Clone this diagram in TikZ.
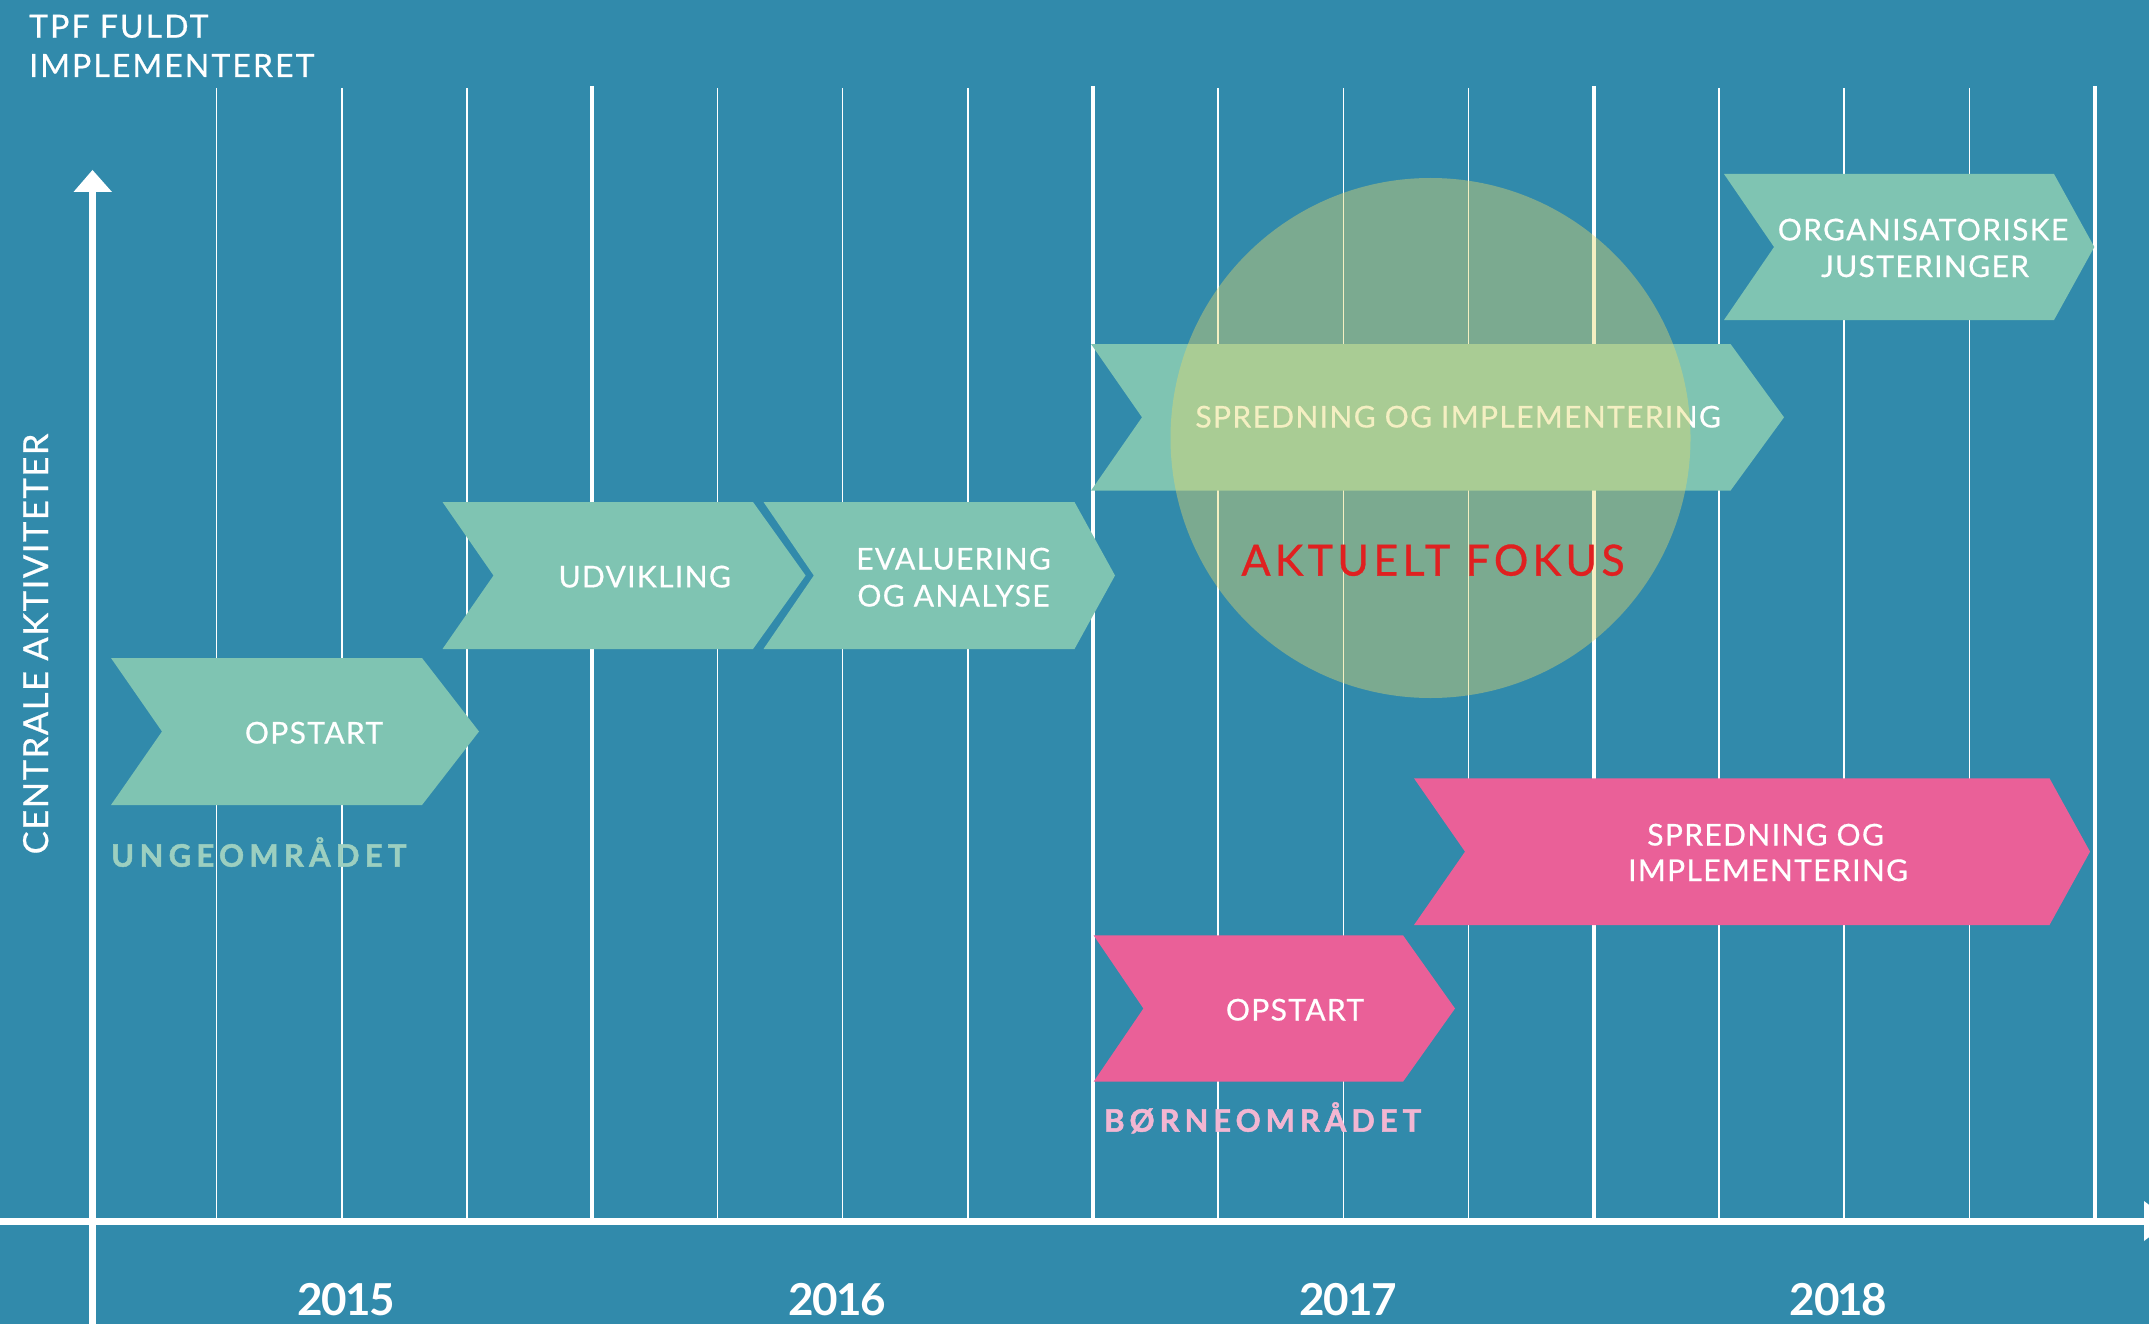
\documentclass[tikz,border=0pt]{standalone}
\usepackage{fontspec}
\setmainfont{Lato}
\definecolor{bgblue}{RGB}{49,138,171}
\definecolor{teal}{RGB}{127,196,178}
\definecolor{pinkc}{RGB}{234,96,152}
\definecolor{ungec}{RGB}{156,207,192}
\definecolor{borne}{RGB}{242,182,210}
\definecolor{focusc}{RGB}{230,217,107}
\definecolor{redc}{RGB}{224,32,32}
\newcommand\chev[7]{%
  \fill[#7] (#1,#5) -- (#3,#5) -- (#4,{(#5+#6)/2}) -- (#3,#6) -- (#1,#6) -- (#2,{(#5+#6)/2}) -- cycle;}
\tikzset{
  lab/.style={text=white, inner sep=0pt, anchor=base, font=\fontsize{30}{36}\selectfont\addfontfeatures{LetterSpace=4.5,FakeBold=0.6}},
  thinline/.style={white, line width=1.6pt},
  thickline/.style={white, line width=4pt},
  yearlab/.style={text=white, inner sep=0pt, anchor=base, font=\bfseries\fontsize{44}{50}\selectfont\addfontfeatures{LetterSpace=-3.5}},
}
\begin{document}
\begin{tikzpicture}[x=1pt,y=-1pt]
\useasboundingbox (0,0) rectangle (2149,1324);
\clip (0,0) rectangle (2149,1324);
\fill[bgblue] (0,0) rectangle (2149,1324);
% grid
\foreach \k in {1,2,3,5,6,7,9,10,11,13,14,15}
  \draw[thinline] ({91.3+125.2*\k},88) -- ({91.3+125.2*\k},1218);
\foreach \k in {4,8,12,16}
  \draw[thickline] ({91.3+125.2*\k},86) -- ({91.3+125.2*\k},1218);
% axes
\draw[white, line width=7pt] (0,1221) -- (2146,1221);
\fill[white] (2144,1201) -- (2170,1221) -- (2144,1241) -- cycle;
\draw[white, line width=7pt] (92.5,1324) -- (92.5,190);
\fill[white] (73.5,192) -- (92.5,170) -- (112,192) -- cycle;
% header
\node[lab, anchor=base west, font=\fontsize{32}{38}\selectfont\addfontfeatures{LetterSpace=6.5,FakeBold=0.6}] (h1) at (29,37.7) {TPF FULDT};
\node[lab, anchor=base west, font=\fontsize{32}{38}\selectfont\addfontfeatures{LetterSpace=6.5,FakeBold=0.6}] (h2) at (29,77) {IMPLEMENTERET};
\node[lab, rotate=90, font=\fontsize{34.5}{40}\selectfont\addfontfeatures{LetterSpace=4.5,FakeBold=0.6}] (yax) at (48,644) {CENTRALE AKTIVITETER};
% chevrons
\chev{111}{162}{422}{479}{658}{805}{teal}
\chev{442.5}{493.5}{753}{805.6}{502}{649}{teal}
\chev{763.5}{813.8}{1074.5}{1115}{502}{649}{teal}
\chev{1091}{1142}{1730.5}{1784}{344}{490.6}{teal}
\chev{1724}{1774}{2054}{2094.3}{174}{320}{teal}
\chev{1414}{1465}{2049.5}{2090}{778.3}{925}{pinkc}
\chev{1093.6}{1143.4}{1403}{1455}{935.3}{1081.7}{pinkc}
% labels
\node[lab] (opu) at (314,743.5) {OPSTART};
\node[lab] (udv) at (644.7,587.4) {UDVIKLING};
\node[lab] (ev1) at (953.5,569.5) {EVALUERING};
\node[lab] (ev2) at (953.5,606.5) {OG ANALYSE};
\node[lab] (spt) at (1458,427.5) {SPREDNING OG IMPLEMENTERING};
\node[lab] (or1) at (1923,240.4) {ORGANISATORISKE};
\node[lab] (or2) at (1925,277) {JUSTERINGER};
\node[lab] (sp1) at (1765.5,845.5) {SPREDNING OG};
\node[lab] (sp2) at (1768,881) {IMPLEMENTERING};
\node[lab] (opb) at (1295,1020.5) {OPSTART};
\node[lab, anchor=base west, text=ungec, font=\bfseries\fontsize{31}{36}\selectfont\addfontfeatures{LetterSpace=17,FakeBold=1.6}] (unge) at (111,866.7) {UNGEOMRÅDET};
\node[lab, anchor=base west, text=borne, font=\bfseries\fontsize{31}{36}\selectfont\addfontfeatures{LetterSpace=16,FakeBold=1.6}] (born) at (1104,1131.7) {BØRNEOMRÅDET};
% focus circle
\fill[focusc, opacity=0.41] (1430.5,438) circle (260);
\node[lab, text=redc, font=\fontsize{43}{48}\selectfont\addfontfeatures{LetterSpace=10,FakeBold=0.8}] (fokus) at (1433,575.6) {AKTUELT FOKUS};
% years
\node[yearlab] (y15) at (346,1315) {2015};
\node[yearlab] (y16) at (837.5,1315) {2016};
\node[yearlab] (y17) at (1348,1315) {2017};
\node[yearlab] (y18) at (1838.7,1315) {2018};
\end{tikzpicture}
\end{document}
